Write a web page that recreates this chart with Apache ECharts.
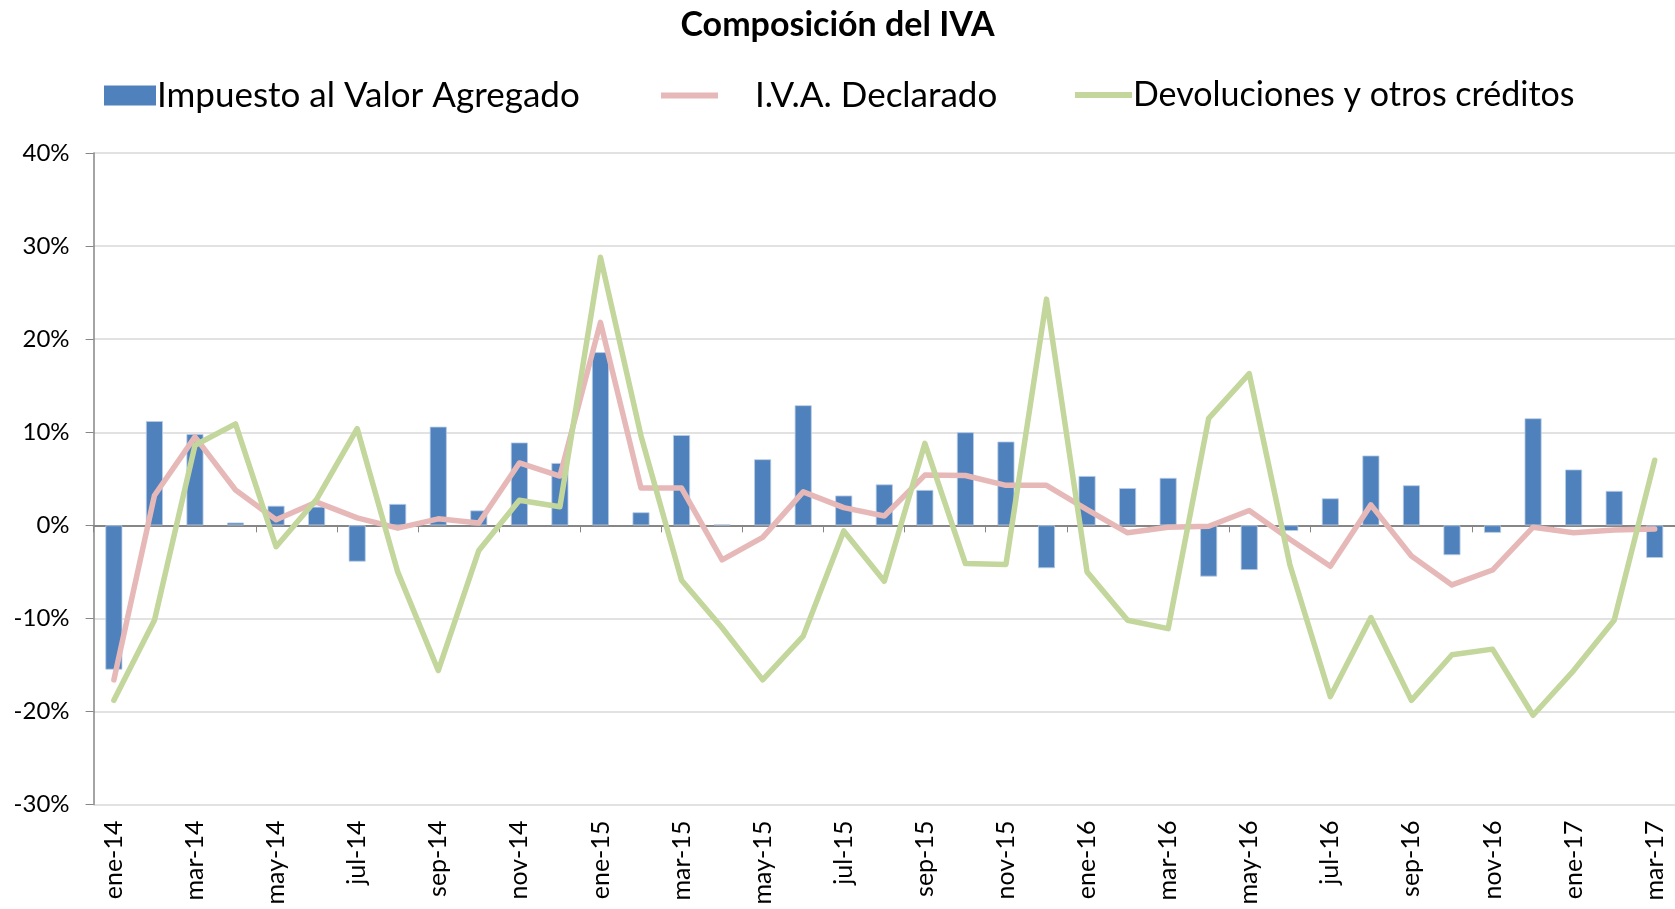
<!DOCTYPE html>
<html><head><meta charset="utf-8">
<script src="https://cdn.jsdelivr.net/npm/echarts@6/dist/echarts.min.js"></script>
<style>html,body{margin:0;padding:0;background:#fff}#c{width:1675px;height:909px}</style>
</head><body><div id="c"></div>
<script>
const categories = ['ene-14','feb-14','mar-14','abr-14','may-14','jun-14','jul-14','ago-14','sep-14','oct-14','nov-14','dic-14',
 'ene-15','feb-15','mar-15','abr-15','may-15','jun-15','jul-15','ago-15','sep-15','oct-15','nov-15','dic-15',
 'ene-16','feb-16','mar-16','abr-16','may-16','jun-16','jul-16','ago-16','sep-16','oct-16','nov-16','dic-16',
 'ene-17','feb-17','mar-17'];
const iva = [-15.5,11.2,9.8,0.3,2.1,2.0,-3.9,2.3,10.6,1.6,8.9,6.7,
 18.6,1.4,9.7,0.1,7.1,12.9,3.2,4.4,3.8,10.0,9.0,-4.6,
 5.3,4.0,5.1,-5.5,-4.8,-0.6,2.9,7.5,4.3,-3.2,-0.8,11.5,
 6.0,3.7,-3.5];
const declarado = [-16.6,3.2,9.5,3.8,0.6,2.5,0.8,-0.3,0.7,0.25,6.7,5.3,
 21.8,4.0,4.0,-3.7,-1.3,3.6,1.9,1.0,5.4,5.35,4.3,4.3,
 1.7,-0.8,-0.2,-0.1,1.6,-1.5,-4.4,2.2,-3.3,-6.4,-4.8,-0.2,
 -0.8,-0.5,-0.4];
const devoluciones = [-18.8,-10.2,8.6,10.9,-2.3,2.8,10.4,-5.0,-15.6,-2.7,2.7,2.0,
 28.8,9.6,-5.9,-11.0,-16.6,-11.9,-0.6,-6.0,8.8,-4.1,-4.2,24.3,
 -5.0,-10.2,-11.1,11.5,16.3,-4.2,-18.4,-9.9,-18.8,-13.9,-13.3,-20.4,
 -15.6,-10.2,7.0];
const yTicks = {min:-30, max:40, interval:10};
const FONT = 'Lato, "Open Sans", sans-serif';

const chart = echarts.init(document.getElementById('c'), null, {renderer:'canvas'});
chart.setOption({
  animation:false,
  backgroundColor:'#fff',
  title:{text:'Composición del IVA', left:'center', top:3,
    textStyle:{fontFamily:FONT, fontWeight:'bold', fontSize:34, color:'#000'}},
  legend:[
    {left:99, top:73, itemWidth:52, itemHeight:20, itemGap:0, icon:'rect',
     itemStyle:{borderWidth:0},
     data:['Impuesto al Valor Agregado'],
     textStyle:{fontFamily:FONT, fontSize:35, color:'#000', padding:[0,0,0,-4]}},
    {left:656, top:73, itemWidth:57, itemHeight:6, icon:'rect',
     data:['I.V.A. Declarado'],
     textStyle:{fontFamily:FONT, fontSize:35, color:'#000', padding:[0,0,0,32]}},
    {left:1070, top:73, itemWidth:57, itemHeight:6, icon:'rect',
     data:['Devoluciones y otros créditos'],
     textStyle:{fontFamily:FONT, fontSize:34, color:'#000', padding:[0,0,0,-4]}}
  ],
  grid:{left:93.6, right:-5, top:153, bottom:104.4, containLabel:false},
  xAxis:[
    {type:'category', data:categories, position:'bottom', boundaryGap:true,
     axisLine:{show:false, onZero:false}, axisTick:{show:false},
     axisLabel:{interval:1, rotate:90, margin:16, fontFamily:FONT, fontSize:25, color:'#000'}},
    {type:'category', data:categories, position:'bottom', boundaryGap:true,
     axisLine:{show:true, onZero:true, lineStyle:{color:'#868686', width:1.8}},
     axisTick:{show:true, interval:1, length:7, lineStyle:{color:'#868686'}},
     axisLabel:{show:false}}
  ],
  yAxis:{type:'value', min:yTicks.min, max:yTicks.max, interval:yTicks.interval,
    axisLine:{show:true, lineStyle:{color:'#868686', width:1.5}},
    axisTick:{show:true, length:8, lineStyle:{color:'#868686'}},
    splitLine:{show:true, lineStyle:{color:'#d9d9d9', width:1.5}},
    axisLabel:{formatter:'{value}%', margin:24, fontFamily:FONT, fontSize:24, color:'#000'}},
  series:[
    {name:'Impuesto al Valor Agregado', type:'bar', data:iva, barWidth:17, xAxisIndex:0,
     itemStyle:{color:'#4f81bd', borderColor:'#b9cde5', borderWidth:0.8}},
    {name:'I.V.A. Declarado', type:'line', data:declarado, xAxisIndex:0, showSymbol:false, symbol:'none',
     lineStyle:{color:'#e6b9b8', width:5.5, join:'round', cap:'round'}, itemStyle:{color:'#e6b9b8'}},
    {name:'Devoluciones y otros créditos', type:'line', data:devoluciones, xAxisIndex:0, showSymbol:false, symbol:'none',
     lineStyle:{color:'#c3d69b', width:5.5, join:'round', cap:'round'}, itemStyle:{color:'#c3d69b'}}
  ]
});
</script></body></html>
